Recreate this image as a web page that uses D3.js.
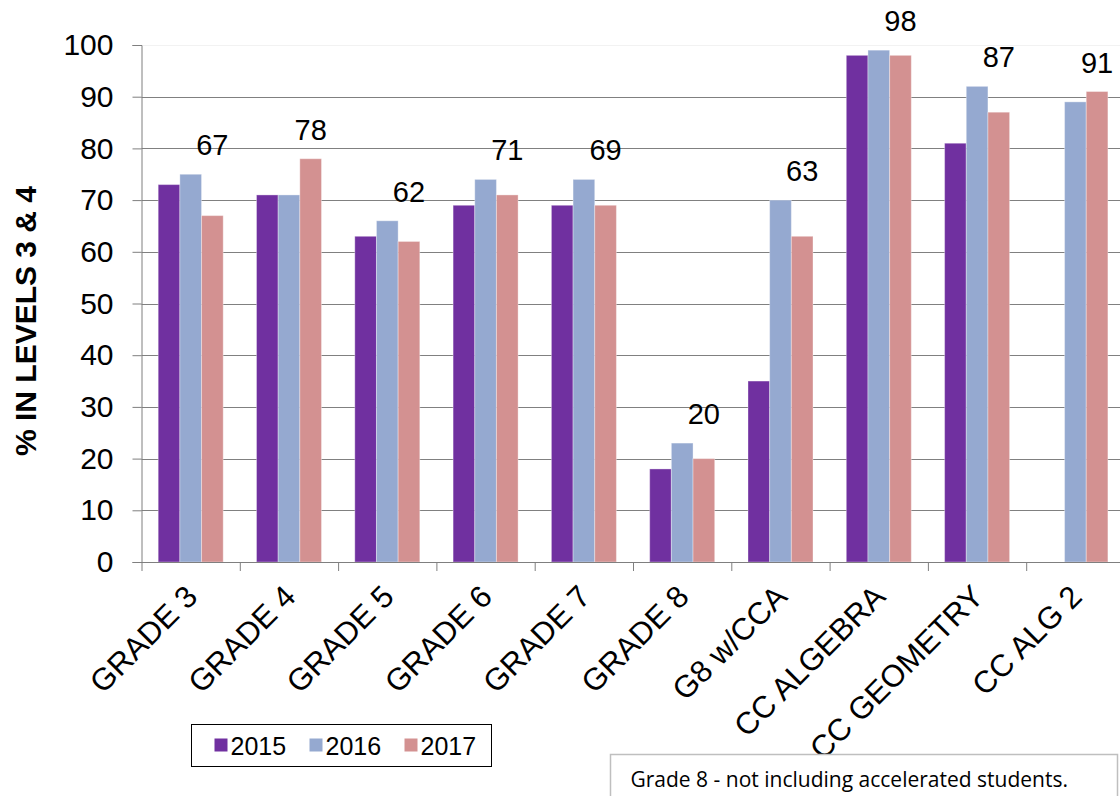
<!DOCTYPE html>
<html>
<head>
<meta charset="utf-8">
<script src="https://cdn.jsdelivr.net/npm/d3@7"></script>
<style>
  body { margin: 0; background: #fff; }
  svg { display: block; font-family: "Liberation Sans", Arial, sans-serif; }
  .axis path, .axis line { stroke: #7f7f7f; }
</style>
</head>
<body>
<div id="chart"></div>
<script>
// data
let categories = ["GRADE 3", "GRADE 4", "GRADE 5", "GRADE 6", "GRADE 7", "GRADE 8", "G8 w/CCA", "CC ALGEBRA", "CC GEOMETRY", "CC ALG 2"];
let years = ["2015", "2016", "2017"];
let values2015 = [73, 71, 63, 69, 69, 18, 35, 98, 81, null];
let values2016 = [75, 71, 66, 74, 74, 23, 70, 99, 92, 89];
let values2017 = [67, 78, 62, 71, 69, 20, 63, 98, 87, 91];
let yTicks = [0, 10, 20, 30, 40, 50, 60, 70, 80, 90, 100];
let colors = ["#7030A0", "#95A9D0", "#D39191"];

let width = 1120;
let height = 796;

let plotLeft = 141.5;
let step = 98.3;
let plotTop = 45;
let plotBottom = 562;

let svg = d3.select("#chart")
            .append("svg")
            .attr("width", width)
            .attr("height", height)

let xScale = d3.scaleBand()
    .domain(categories)
    .range([plotLeft, plotLeft + step * categories.length])
    .padding(0)

let xInner = d3.scaleBand()
    .domain(years)
    .range([16.7, 81.7])

let yScale = d3.scaleLinear()
    .domain([0, 100])
    .range([plotBottom, plotTop])

// gridlines
svg.append("g")
    .selectAll("line")
    .data(yTicks.filter(function(d){ return d > 0 }))
    .enter()
    .append("line")
    .attr("x1", plotLeft)
    .attr("x2", width)
    .attr("y1", function(d){ return Math.round(yScale(d)) + 0.5 })
    .attr("y2", function(d){ return Math.round(yScale(d)) + 0.5 })
    .attr("stroke", function(d){ return d === 100 ? "#f2f2f2" : "#808080" })
    .attr("stroke-width", 1)

// bars
let series = [values2015, values2016, values2017];
let barData = [];
categories.forEach(function(c, i){
    years.forEach(function(y, j){
        if(series[j][i] !== null){
            barData.push({cat: c, year: y, value: series[j][i], color: colors[j]})
        }
    })
})

svg.append("g")
    .selectAll("rect")
    .data(barData)
    .enter()
    .append("rect")
    .attr("x", function(d){ return xScale(d.cat) + xInner(d.year) })
    .attr("width", xInner.bandwidth())
    .attr("y", function(d){ return yScale(d.value) })
    .attr("height", function(d){ return plotBottom - yScale(d.value) })
    .attr("fill", function(d){ return d.color })
    .attr("stroke", "#ffffff")
    .attr("stroke-opacity", 0.35)
    .attr("stroke-width", 1)

// y axis
let yAxis = d3.axisLeft(yScale).tickValues(yTicks).tickSize(9).tickPadding(19)
let yG = svg.append("g")
    .attr("class", "axis")
    .attr("transform", `translate(${plotLeft}, 0)`)
    .call(yAxis)
yG.selectAll("text")
    .attr("font-size", 30)
    .attr("fill", "#000")
    .attr("font-family", "Liberation Sans, Arial, sans-serif")

// x axis: ticks sit between the categories
let xEdge = d3.scaleLinear().domain([0, categories.length]).range(xScale.range())
let xAxis = d3.axisBottom(xEdge).tickValues(d3.range(0, categories.length + 1)).tickSize(9).tickFormat("")
svg.append("g")
    .attr("class", "axis")
    .attr("transform", `translate(0, ${plotBottom})`)
    .call(xAxis)
    .select(".domain").attr("d", `M${plotLeft},0.5H${width}`)

// rotated category labels
svg.append("g")
    .selectAll("text")
    .data(categories)
    .enter()
    .append("text")
    .attr("transform", function(d){
        return `translate(${xScale(d) + xScale.bandwidth() / 2 - 8}, 582) rotate(-45)`
    })
    .attr("text-anchor", "end")
    .attr("dy", "0.75em")
    .attr("font-size", 31)
    .text(function(d){ return d })

// data labels for 2017, sitting above the tallest bar of each group
svg.append("g")
    .selectAll("text")
    .data(categories)
    .enter()
    .append("text")
    .attr("x", function(d){ return xScale(d) + xInner("2017") + xInner.bandwidth() / 2 })
    .attr("y", function(d, i){
        let top = d3.max([values2015[i], values2016[i], values2017[i]])
        return yScale(top) - 19
    })
    .attr("text-anchor", "middle")
    .attr("font-size", 29)
    .text(function(d, i){ return values2017[i] })

// y title
svg.append("text")
    .attr("transform", `translate(36, 321) rotate(-90)`)
    .attr("text-anchor", "middle")
    .attr("font-size", 30)
    .attr("font-weight", "bold")
    .text("% IN LEVELS 3 & 4")

// legend
let legend = svg.append("g").attr("transform", "translate(191.5, 724.5)")
legend.append("rect")
    .attr("width", 300)
    .attr("height", 42)
    .attr("fill", "#fff")
    .attr("stroke", "#000")
    .attr("stroke-width", 1)
let legendX = [23, 118, 213];
years.forEach(function(y, j){
    legend.append("rect")
        .attr("x", legendX[j])
        .attr("y", 14)
        .attr("width", 13)
        .attr("height", 13)
        .attr("fill", colors[j])
    legend.append("text")
        .attr("x", legendX[j] + 16)
        .attr("y", 30)
        .attr("font-size", 25)
        .text(y)
})

// note box
let note = svg.append("g").attr("transform", "translate(610.5, 754.5)")
note.append("rect")
    .attr("width", 507)
    .attr("height", 45)
    .attr("fill", "#fff")
    .attr("stroke", "#bfbfbf")
    .attr("stroke-width", 1.5)
note.append("text")
    .attr("x", 20)
    .attr("y", 32)
    .attr("font-size", 21)
    .attr("font-family", "Open Sans, Lato, sans-serif")
    .text("Grade 8 - not including accelerated students.")
</script>
</body>
</html>
